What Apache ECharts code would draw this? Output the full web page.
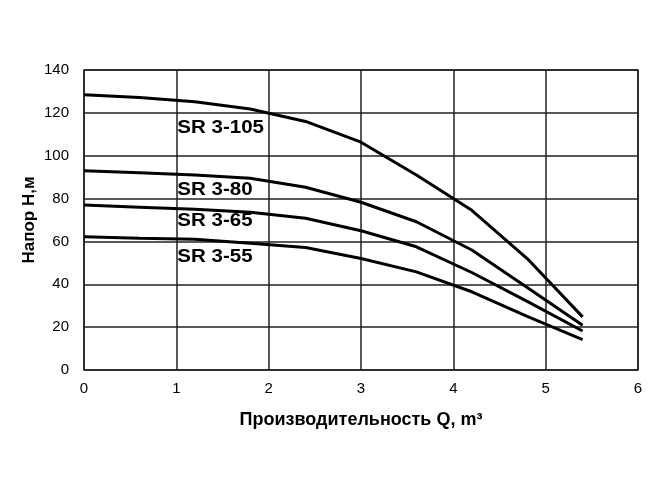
<!DOCTYPE html>
<html>
<head>
<meta charset="utf-8">
<script src="https://cdn.jsdelivr.net/npm/echarts@6/dist/echarts.min.js"></script>
<style>
  html, body { margin: 0; padding: 0; background: #fff; }
  #chart { width: 672px; height: 504px; }
</style>
</head>
<body>
<div id="chart"></div>
<script>
// flow points, m3
const flow = [0, 0.6, 1.2, 1.8, 2.4, 3.0, 3.6, 4.2, 4.8, 5.4]

// head, m
const sr3105 = [128.5, 127.2, 125.2, 121.8, 116, 106.3, 91, 74.5, 52, 24.8]
const sr380 = [93, 92, 91, 89.5, 85.3, 78.3, 69.2, 56, 38.5, 20.9]
const sr365 = [77, 76, 75, 73.6, 70.8, 65, 57.5, 45.5, 32, 18.2]
const sr355 = [62.2, 61.5, 61, 59.1, 57.2, 52, 45.8, 36.5, 25, 14.2]

const seriesNames = ['SR 3-105', 'SR 3-80', 'SR 3-65', 'SR 3-55']
const labelPos = [[1.0, 113], [1.0, 84], [1.0, 69.5], [1.0, 52.7]]

const chart = echarts.init(document.getElementById('chart'))

const lineSeries = (name, vals) => ({
  name,
  type: 'line',
  data: flow.map((q, i) => [q, vals[i]]),
  symbol: 'none',
  smooth: false,
  lineStyle: { color: '#000', width: 3 },
  z: 5
})

chart.setOption({
  animation: false,
  backgroundColor: '#fff',
  textStyle: { fontFamily: 'Liberation Sans, Arial, sans-serif', color: '#000' },
  grid: { left: 84, right: 34, top: 70, bottom: 134, show: true, borderColor: '#222', borderWidth: 1.5 },
  xAxis: {
    type: 'value',
    min: 0,
    max: 6,
    interval: 1,
    name: 'Производительность Q, m³',
    nameLocation: 'middle',
    nameGap: 41,
    nameTextStyle: { fontSize: 18, fontWeight: 'bold', color: '#000' },
    axisLine: { show: false },
    axisTick: { show: false },
    axisLabel: { fontSize: 15, color: '#000', margin: 11 },
    splitLine: { lineStyle: { color: '#222', width: 1.5 } }
  },
  yAxis: {
    type: 'value',
    min: 0,
    max: 140,
    interval: 20,
    name: 'Напор Н,м',
    nameLocation: 'middle',
    nameGap: 46,
    nameMoveOverlap: false,
    nameTextStyle: { fontSize: 17, fontWeight: 'bold', color: '#000' },
    axisLine: { show: false },
    axisTick: { show: false },
    axisLabel: { fontSize: 15, color: '#000', margin: 15 },
    splitLine: { lineStyle: { color: '#222', width: 1.5 } }
  },
  series: [
    lineSeries(seriesNames[0], sr3105),
    lineSeries(seriesNames[1], sr380),
    lineSeries(seriesNames[2], sr365),
    lineSeries(seriesNames[3], sr355)
  ]
})

// curve labels placed in data coordinates
const labels = seriesNames.map((name, i) => {
  const p = chart.convertToPixel({ gridIndex: 0 }, labelPos[i])
  return {
    type: 'text',
    x: p[0] + 1,
    y: p[1],
    scaleX: 1.08,
    z: 10,
    style: {
      text: name,
      fill: '#000',
      font: 'bold 19px "Liberation Sans", Arial, sans-serif',
      textAlign: 'left',
      textVerticalAlign: 'middle'
    }
  }
})
chart.setOption({ graphic: labels })
</script>
</body>
</html>
